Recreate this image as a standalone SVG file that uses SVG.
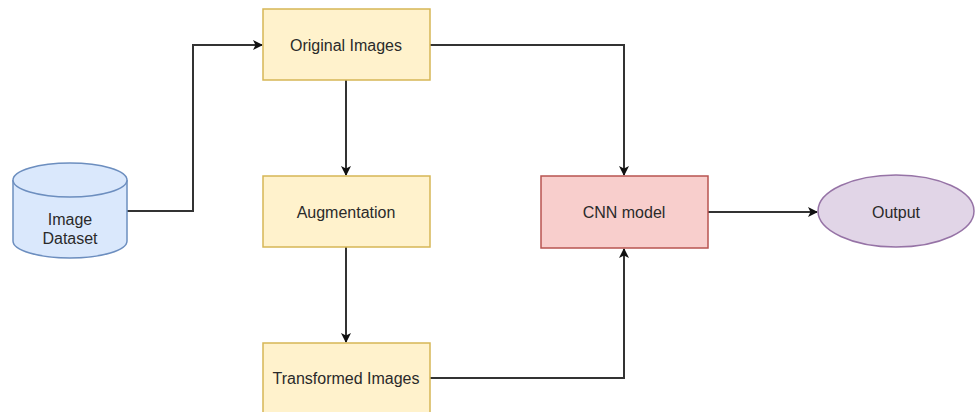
<svg xmlns="http://www.w3.org/2000/svg" width="976" height="412" viewBox="0 0 976 412">
<defs>
<marker id="arr" markerWidth="10" markerHeight="10" refX="9" refY="5" orient="auto" markerUnits="userSpaceOnUse">
<path d="M0,0 L10,5 L0,10 L2.5,5 Z" fill="#111"/>
</marker>
</defs>
<style>
.lbl{font-family:"Liberation Sans",Arial,sans-serif;font-size:16px;fill:#2a2a2a;text-anchor:middle;dominant-baseline:central}
.box{fill:#fff2cc;stroke:#d6b656;stroke-width:1.5}
.edge{fill:none;stroke:#333;stroke-width:2}
</style>
<rect width="976" height="412" fill="#ffffff"/>
<g id="connectors">
<path class="edge" d="M127,211 H193 V45 H262" marker-end="url(#arr)"/>
<path class="edge" d="M430,45 H624 V175" marker-end="url(#arr)"/>
<path class="edge" d="M346,80 V175" marker-end="url(#arr)"/>
<path class="edge" d="M346,247 V342" marker-end="url(#arr)"/>
<path class="edge" d="M430,378 H624 V249" marker-end="url(#arr)"/>
<path class="edge" d="M708,212 H817" marker-end="url(#arr)"/>
</g>
<g id="image-dataset">
<path d="M13,180 V241 A57,17 0 0 0 127,241 V180" fill="#dae8fc" stroke="#6c8ebf" stroke-width="1.5"/>
<ellipse cx="70" cy="180" rx="57" ry="17" fill="#dae8fc" stroke="#6c8ebf" stroke-width="1.5"/>
<text class="lbl" x="70" y="219">Image</text>
<text class="lbl" x="70" y="238">Dataset</text>
</g>
<g id="original-images">
<rect class="box" x="263" y="9" width="167" height="71"/>
<text class="lbl" x="346" y="45">Original Images</text>
</g>
<g id="augmentation">
<rect class="box" x="263" y="176" width="167" height="71"/>
<text class="lbl" x="346" y="212">Augmentation</text>
</g>
<g id="transformed-images">
<rect class="box" x="263" y="343" width="167" height="72"/>
<text class="lbl" x="346" y="378">Transformed Images</text>
</g>
<g id="cnn-model">
<rect x="541" y="176" width="167" height="72" fill="#f8cecc" stroke="#b85450" stroke-width="1.5"/>
<text class="lbl" x="624" y="212">CNN model</text>
</g>
<g id="output">
<ellipse cx="896" cy="211" rx="78" ry="36" fill="#e1d5e7" stroke="#9673a6" stroke-width="1.5"/>
<text class="lbl" x="896" y="212">Output</text>
</g>
</svg>
